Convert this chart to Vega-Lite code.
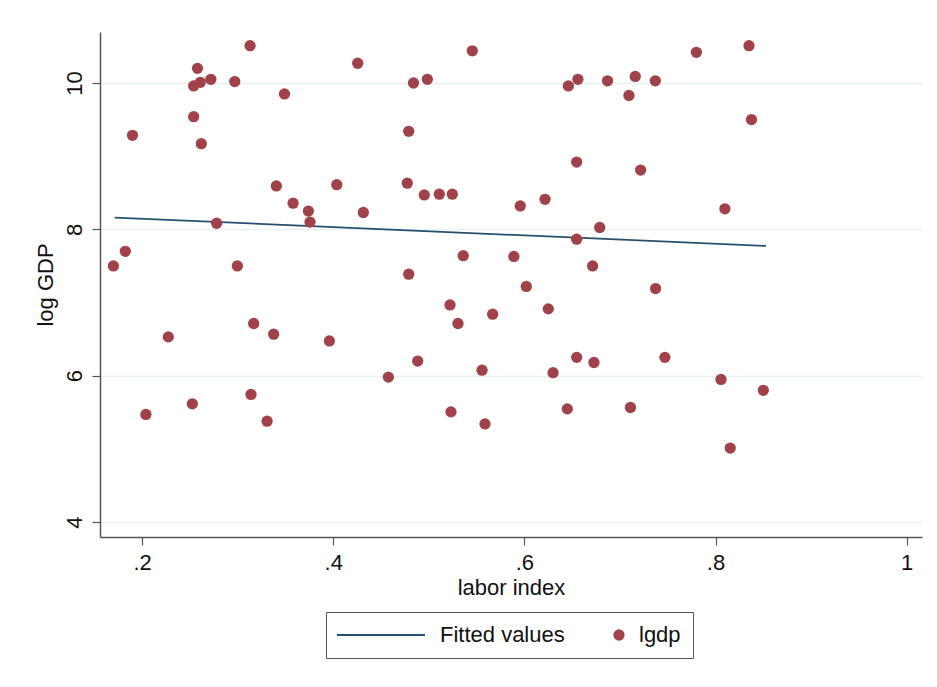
{
  "$schema": "https://vega.github.io/schema/vega-lite/v6.json",
  "autosize": {"type": "none"},
  "padding": {"left": 100, "top": 32, "right": 15, "bottom": 150},
  "width": 822,
  "height": 505,
  "background": "white",
  "config": {
    "font": "Liberation Sans",
    "view": {"stroke": null},
    "axis": {
      "labelFont": "Liberation Sans",
      "titleFont": "Liberation Sans",
      "labelFontSize": 22,
      "titleFontSize": 22,
      "titleFontWeight": "normal",
      "labelColor": "#111",
      "titleColor": "#111",
      "domainColor": "#555",
      "domainWidth": 1.5,
      "tickColor": "#555",
      "tickWidth": 1.2,
      "tickSize": 8
    },
    "legend": {
      "title": null,
      "orient": "none",
      "legendX": 226,
      "legendY": 580,
      "direction": "horizontal",
      "strokeColor": "#555",
      "padding": 12,
      "labelFont": "Liberation Sans",
      "labelFontSize": 22,
      "labelColor": "#111",
      "labelOffset": 0,
      "columnPadding": 48,
      "symbolSize": 100
    }
  },
  "datasets": {
    "pts": [
      {"labor": 0.170, "lgdp": 7.50}, {"labor": 0.1825, "lgdp": 7.70}, {"labor": 0.190, "lgdp": 9.285},
      {"labor": 0.204, "lgdp": 5.47}, {"labor": 0.2275, "lgdp": 6.53}, {"labor": 0.2526, "lgdp": 5.615},
      {"labor": 0.254, "lgdp": 9.54}, {"labor": 0.254, "lgdp": 9.96}, {"labor": 0.258, "lgdp": 10.20},
      {"labor": 0.261, "lgdp": 10.01}, {"labor": 0.272, "lgdp": 10.05}, {"labor": 0.262, "lgdp": 9.17},
      {"labor": 0.278, "lgdp": 8.083}, {"labor": 0.297, "lgdp": 10.02}, {"labor": 0.2997, "lgdp": 7.50},
      {"labor": 0.313, "lgdp": 10.51}, {"labor": 0.314, "lgdp": 5.743}, {"labor": 0.3168, "lgdp": 6.713},
      {"labor": 0.3308, "lgdp": 5.378}, {"labor": 0.3377, "lgdp": 6.567}, {"labor": 0.3405, "lgdp": 8.593},
      {"labor": 0.349, "lgdp": 9.85}, {"labor": 0.358, "lgdp": 8.357}, {"labor": 0.374, "lgdp": 8.25},
      {"labor": 0.3757, "lgdp": 8.10}, {"labor": 0.396, "lgdp": 6.475}, {"labor": 0.4037, "lgdp": 8.61},
      {"labor": 0.4256, "lgdp": 10.27}, {"labor": 0.4315, "lgdp": 8.23}, {"labor": 0.4577, "lgdp": 5.98},
      {"labor": 0.4775, "lgdp": 8.63}, {"labor": 0.479, "lgdp": 9.34}, {"labor": 0.479, "lgdp": 7.387},
      {"labor": 0.484, "lgdp": 10.00}, {"labor": 0.4884, "lgdp": 6.20}, {"labor": 0.4953, "lgdp": 8.47},
      {"labor": 0.4985, "lgdp": 10.05}, {"labor": 0.511, "lgdp": 8.48}, {"labor": 0.5222, "lgdp": 6.967},
      {"labor": 0.5232, "lgdp": 5.505}, {"labor": 0.5246, "lgdp": 8.48}, {"labor": 0.5305, "lgdp": 6.713},
      {"labor": 0.536, "lgdp": 7.64}, {"labor": 0.5455, "lgdp": 10.44}, {"labor": 0.5557, "lgdp": 6.075},
      {"labor": 0.5588, "lgdp": 5.34}, {"labor": 0.5668, "lgdp": 6.84}, {"labor": 0.589, "lgdp": 7.63},
      {"labor": 0.5957, "lgdp": 8.32}, {"labor": 0.602, "lgdp": 7.22}, {"labor": 0.6216, "lgdp": 8.41},
      {"labor": 0.625, "lgdp": 6.913}, {"labor": 0.630, "lgdp": 6.04}, {"labor": 0.6449, "lgdp": 5.546},
      {"labor": 0.646, "lgdp": 9.96}, {"labor": 0.6547, "lgdp": 8.92}, {"labor": 0.6547, "lgdp": 7.865},
      {"labor": 0.656, "lgdp": 10.05}, {"labor": 0.6547, "lgdp": 6.25}, {"labor": 0.6714, "lgdp": 7.50},
      {"labor": 0.6728, "lgdp": 6.18}, {"labor": 0.6788, "lgdp": 8.025}, {"labor": 0.687, "lgdp": 10.03},
      {"labor": 0.7094, "lgdp": 9.83}, {"labor": 0.711, "lgdp": 5.565}, {"labor": 0.716, "lgdp": 10.09},
      {"labor": 0.7216, "lgdp": 8.81}, {"labor": 0.737, "lgdp": 10.03}, {"labor": 0.7373, "lgdp": 7.19},
      {"labor": 0.747, "lgdp": 6.25}, {"labor": 0.780, "lgdp": 10.42}, {"labor": 0.8057, "lgdp": 5.948},
      {"labor": 0.8098, "lgdp": 8.28}, {"labor": 0.8154, "lgdp": 5.01}, {"labor": 0.835, "lgdp": 10.51},
      {"labor": 0.8376, "lgdp": 9.50}, {"labor": 0.850, "lgdp": 5.80}
    ],
    "fit": [
      {"labor": 0.1714, "fitted": 8.161},
      {"labor": 0.8527, "fitted": 7.773}
    ]
  },
  "layer": [
    {
      "data": {"name": "fit"},
      "mark": {"type": "line", "strokeWidth": 1.8},
      "encoding": {
        "x": {"field": "labor", "type": "quantitative"},
        "y": {"field": "fitted", "type": "quantitative"},
        "color": {
          "datum": "Fitted values",
          "legend": {
            "encode": {
              "symbols": {
                "update": {
                  "shape": {"signal": "datum.value === 'Fitted values' ? 'stroke' : 'circle'"},
                  "size": {"signal": "datum.value === 'Fitted values' ? 7744 : 127"},
                  "x": {"signal": "datum.value === 'Fitted values' ? 43 : 6"},
                  "strokeWidth": {"signal": "datum.value === 'Fitted values' ? 2 : 0"},
                  "stroke": {"signal": "scale('color', datum.value)"},
                  "fill": {"signal": "datum.value === 'Fitted values' ? 'transparent' : scale('color', datum.value)"},
                  "opacity": {"value": 1},
                  "fillOpacity": {"value": 1}
                }
              },
              "labels": {
                "update": {
                  "x": {"signal": "datum.value === 'Fitted values' ? 102 : 26"}
                }
              }
            }
          }
        }
      }
    },
    {
      "data": {"name": "pts"},
      "mark": {"type": "circle", "size": 127, "opacity": 1},
      "encoding": {
        "x": {
          "field": "labor", "type": "quantitative",
          "scale": {"domain": [0.156, 1.016], "nice": false, "zero": false},
          "axis": {
            "title": "labor index",
            "values": [0.2, 0.4, 0.6, 0.8, 1],
            "labelExpr": "replace(format(datum.value, '~g'), /^0/, '')",
            "grid": false,
            "labelPadding": 7,
            "titlePadding": 4
          }
        },
        "y": {
          "field": "lgdp", "type": "quantitative",
          "scale": {"domain": [3.795, 10.697], "nice": false, "zero": false},
          "axis": {
            "title": "log GDP",
            "values": [4, 6, 8, 10],
            "format": "d",
            "labelAngle": -90,
            "labelAlign": "center",
            "labelBaseline": "bottom",
            "labelPadding": 6,
            "titlePadding": 6,
            "grid": true,
            "gridColor": "#e9f0f2",
            "gridWidth": 1.5
          }
        },
        "color": {
          "datum": "lgdp",
          "scale": {"domain": ["Fitted values", "lgdp"], "range": ["#24506e", "#a1424a"]},
          "legend": {
            "encode": {
              "symbols": {
                "update": {
                  "shape": {"signal": "datum.value === 'Fitted values' ? 'stroke' : 'circle'"},
                  "size": {"signal": "datum.value === 'Fitted values' ? 7744 : 127"},
                  "x": {"signal": "datum.value === 'Fitted values' ? 43 : 6"},
                  "strokeWidth": {"signal": "datum.value === 'Fitted values' ? 2 : 0"},
                  "stroke": {"signal": "scale('color', datum.value)"},
                  "fill": {"signal": "datum.value === 'Fitted values' ? 'transparent' : scale('color', datum.value)"},
                  "opacity": {"value": 1},
                  "fillOpacity": {"value": 1}
                }
              },
              "labels": {
                "update": {
                  "x": {"signal": "datum.value === 'Fitted values' ? 102 : 26"}
                }
              }
            }
          }
        }
      }
    }
  ]
}
